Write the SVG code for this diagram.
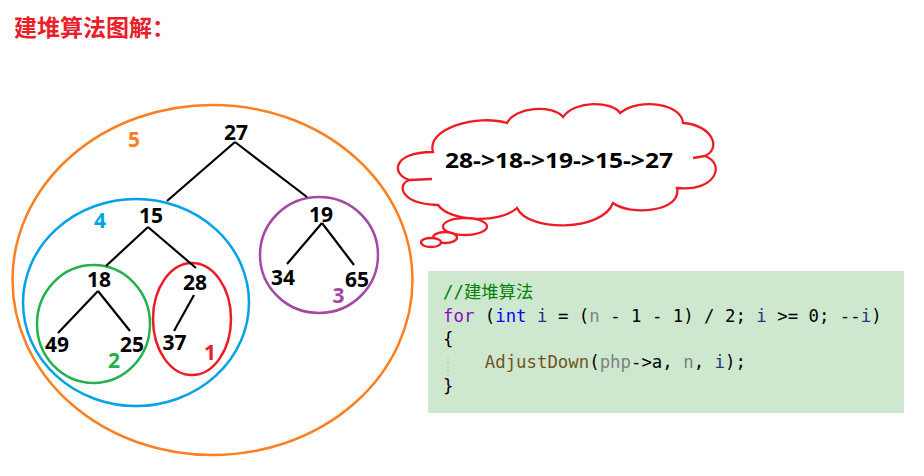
<svg xmlns="http://www.w3.org/2000/svg" width="924" height="476" viewBox="0 0 924 476">
<style>
.num{font-family:"Noto Sans","Open Sans","DejaVu Sans",sans-serif;font-weight:bold;font-size:21px;fill:#000;text-anchor:middle}
.lbl{font-family:"Noto Sans","Open Sans","DejaVu Sans",sans-serif;font-weight:bold;font-size:21px;text-anchor:middle}
.edge{stroke:#000;stroke-width:2.2;fill:none}
.ring{fill:none;stroke-width:2.5}
.code{font-family:"DejaVu Sans Mono","Liberation Mono","Noto Sans CJK SC",monospace;font-size:17.35px;fill:#000;white-space:pre}
.kw{fill:#8f08c4}.ty{fill:#0000ff}.var{fill:#1f377f}.par{fill:#808080}.fn{fill:#74531f}.cm{fill:#008000}
</style>
<rect width="924" height="476" fill="#fff"/>
<text x="14" y="36" font-family="'Noto Sans CJK SC',sans-serif" font-weight="bold" font-size="23" fill="#e8202a">建堆算法图解：</text>

<g id="rings">
<ellipse id="ring5" class="ring" cx="212.5" cy="280" rx="200" ry="175" stroke="#fd7f22"/>
<ellipse id="ring4" class="ring" cx="136" cy="302.5" rx="113" ry="103.5" stroke="#00a2e8"/>
<ellipse id="ring2" class="ring" cx="93.5" cy="324" rx="56.5" ry="59" stroke="#22b14c"/>
<ellipse id="ring1" class="ring" cx="192" cy="319" rx="39" ry="56" stroke="#ed1c24"/>
<ellipse id="ring3" class="ring" cx="319" cy="255" rx="59" ry="58" stroke="#a349a4"/>
<text class="lbl" x="134" y="147" fill="#fd7f22">5</text>
<text class="lbl" x="100" y="228" fill="#00a2e8">4</text>
<text class="lbl" x="338.5" y="303" fill="#a349a4">3</text>
<text class="lbl" x="114" y="368" fill="#22b14c">2</text>
<text class="lbl" x="210" y="360" fill="#ed1c24">1</text>
</g>

<g id="connectors">
<line class="edge" x1="235" y1="142" x2="167" y2="201"/>
<line class="edge" x1="235" y1="142" x2="307" y2="197"/>
<line class="edge" x1="148" y1="227" x2="106" y2="266"/>
<line class="edge" x1="148" y1="227" x2="196" y2="268"/>
<line class="edge" x1="322" y1="223" x2="287" y2="264"/>
<line class="edge" x1="322" y1="223" x2="354" y2="265"/>
<line class="edge" x1="98" y1="291" x2="58" y2="333"/>
<line class="edge" x1="98" y1="291" x2="130" y2="331"/>
<line class="edge" x1="194" y1="295" x2="174" y2="331"/>
</g>

<g id="n27"><text class="num" x="236" y="140">27</text></g>
<g id="n15"><text class="num" x="151" y="223">15</text></g>
<g id="n19"><text class="num" x="321" y="222">19</text></g>
<g id="n18"><text class="num" x="99" y="287">18</text></g>
<g id="n28"><text class="num" x="195" y="290">28</text></g>
<g id="n34"><text class="num" x="283" y="285">34</text></g>
<g id="n65"><text class="num" x="357" y="287">65</text></g>
<g id="n49"><text class="num" x="57" y="352">49</text></g>
<g id="n25"><text class="num" x="132" y="352">25</text></g>
<g id="n37"><text class="num" x="174.5" y="350">37</text></g>

<g id="cloud" fill="#fff" stroke="#ed1c24" stroke-width="2.3">
<path d="M433,152 C426,128 478,114 507,123 C515,107 552,104 563,117 C575,100 612,101 620,113 C640,97 682,104 683,123 C712,125 722,148 705,156 C726,164 716,192 677,188 C682,212 630,216 613,203 C602,232 528,232 517,208 C500,224 450,222 438,205 C400,204 396,184 410,180 C392,176 390,152 433,152 Z"/>
<path d="M432,179 L410,180 M693,158 L705,156" fill="none"/>
<ellipse cx="465" cy="226.5" rx="22" ry="8.5"/>
<ellipse cx="445" cy="237.5" rx="12" ry="5.5"/>
<ellipse cx="431" cy="242.5" rx="10" ry="4.5"/>
<text x="445" y="168" textLength="228" lengthAdjust="spacingAndGlyphs" font-family="'Noto Sans','Open Sans',sans-serif" font-weight="bold" font-size="22" fill="#000" stroke="none">28-&gt;18-&gt;19-&gt;15-&gt;27</text>
</g>

<g id="codebox">
<rect x="428" y="271" width="476" height="142" fill="#cde8cf"/>
<line x1="448" y1="358" x2="448" y2="380" stroke="#b8c8b8" stroke-width="1" stroke-dasharray="2,2"/>
<text class="code" x="443" y="298"><tspan class="cm">//建堆算法</tspan></text>
<text class="code" x="443" y="322"><tspan class="kw">for</tspan> (<tspan class="ty">int</tspan> <tspan class="var">i</tspan> = (<tspan class="par">n</tspan> - 1 - 1) / 2; <tspan class="var">i</tspan> &gt;= 0; --<tspan class="var">i</tspan>)</text>
<text class="code" x="443" y="345">{</text>
<text class="code" x="443" y="368">    <tspan class="fn">AdjustDown</tspan>(<tspan class="par">php</tspan>-&gt;a, <tspan class="par">n</tspan>, <tspan class="var">i</tspan>);</text>
<text class="code" x="443" y="392">}</text>
</g>
</svg>
